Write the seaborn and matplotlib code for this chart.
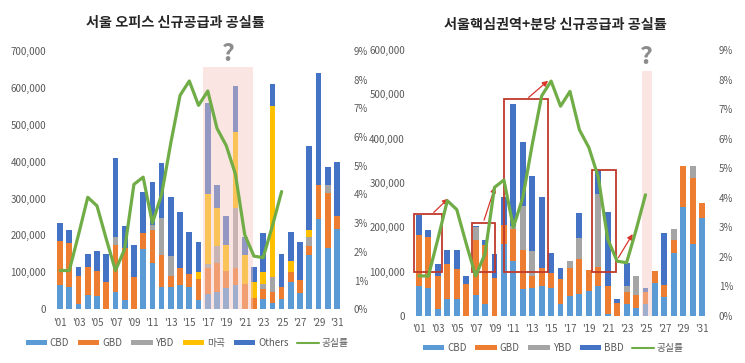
import numpy as np
import pandas as pd
import seaborn as sns
import matplotlib.pyplot as plt
from matplotlib.patches import Rectangle, Patch
from matplotlib.lines import Line2D
from matplotlib.ticker import FuncFormatter

# years and tick labels
years = list(range(2001, 2032))
tick_years = list(range(2001, 2032, 2))
tick_labels = ["'%02d" % (y % 100) for y in tick_years]

# left panel: Seoul office new supply (thousand m2, stacked segments)
cbd_l = [66, 61, 14, 39, 37, 0, 48, 25, 0, 163, 124, 59, 61, 66, 61, 25, 41, 48, 57, 66, 0, 0, 27, 16, 27, 73, 43, 147, 244, 165, 217]
gbd_l = [120, 118, 77, 76, 68, 73, 126, 140, 87, 43, 92, 88, 30, 45, 34, 56, 70, 78, 47, 45, 69, 30, 27, 32, 33, 27, 35, 25, 92, 149, 36]
ybd_l = [0, 0, 0, 0, 0, 0, 23, 0, 0, 0, 12, 99, 53, 0, 0, 0, 11, 46, 0, 162, 0, 0, 15, 40, 0, 0, 0, 25, 0, 22, 0]
magok_l = [0, 0, 0, 0, 0, 0, 0, 0, 0, 0, 0, 0, 0, 0, 0, 19, 190, 101, 70, 206, 78, 43, 31, 462, 0, 32, 0, 18, 0, 0, 0]
others_l = [48, 36, 24, 35, 54, 77, 212, 61, 87, 112, 116, 149, 161, 153, 115, 81, 248, 63, 79, 125, 48, 42, 106, 60, 90, 78, 103, 228, 303, 48, 147]

# right panel: core districts + Bundang
cbd_r = [67, 63, 15, 39, 39, 0, 47, 26, 0, 163, 124, 60, 62, 68, 63, 26, 45, 50, 56, 68, 5, 0, 26, 17, 26, 75, 43, 142, 245, 163, 220]
gbd_r = [115, 115, 75, 79, 66, 72, 125, 134, 86, 43, 71, 88, 28, 41, 33, 58, 64, 78, 47, 43, 63, 30, 28, 30, 27, 26, 26, 30, 93, 149, 34]
ybd_r = [0, 0, 0, 0, 0, 0, 28, 0, 0, 0, 8, 100, 57, 0, 0, 0, 15, 47, 0, 164, 0, 0, 14, 43, 0, 0, 0, 25, 0, 26, 0]
bbd_r = [45, 16, 26, 30, 43, 18, 3, 12, 53, 63, 275, 144, 169, 160, 45, 23, 0, 58, 0, 54, 167, 9, 52, 0, 9, 0, 118, 0, 0, 0, 0]

# vacancy rate (%), 2001-2025
vac_years = list(range(2001, 2026))
vacancy = [1.35, 1.35, 2.6, 3.9, 3.6, 2.45, 1.35, 2.1, 4.35, 4.6, 3.0, 4.0, 5.8, 7.45, 7.95,
           7.1, 7.6, 6.3, 5.7, 4.7, 2.6, 1.85, 1.8, 2.9, 4.1]

colors = {"CBD": "#5B9BD5", "GBD": "#ED7D31", "YBD": "#A5A5A5", "마곡": "#FFC000",
          "Others": "#4472C4", "BBD": "#4472C4"}
green = "#70AD47"

sns.set_theme(style="white")
plt.rcParams["font.family"] = ["Noto Sans CJK KR", "DejaVu Sans"]

fig = plt.figure(figsize=(7.45, 3.63), dpi=100)
ax_l = fig.add_axes([0.0732, 0.148, 0.3866, 0.712])
ax_r = fig.add_axes([0.5548, 0.130, 0.3952, 0.732])


def draw_panel(ax, series, ymax, yticks, title, title_x, title_y):
    df = pd.DataFrame(series, index=years) * 1000
    bottom = np.zeros(len(years))
    for name in df.columns:
        ax.bar(df.index, df[name], bottom=bottom, width=0.62, color=colors[name], linewidth=0, zorder=2)
        bottom += df[name].values
    ax.set_xlim(2000.4, 2031.6)
    ax.set_ylim(0, ymax)
    ax.set_yticks(yticks)
    ax.yaxis.set_major_formatter(FuncFormatter(lambda v, p: f"{int(v):,}"))
    ax.set_xticks(tick_years)
    ax.set_xticklabels(tick_labels)
    ax.tick_params(axis="both", labelsize=7, colors="#595959", length=0, pad=6)
    for s in ax.spines.values():
        s.set_visible(False)
    ax2 = ax.twinx()
    vdf = pd.DataFrame({"year": vac_years, "vacancy": vacancy})
    sns.lineplot(data=vdf, x="year", y="vacancy", ax=ax2, color=green, linewidth=2.3, zorder=5)
    ax2.set_ylim(0, 9)
    ax2.set_yticks(range(0, 10))
    ax2.yaxis.set_major_formatter(FuncFormatter(lambda v, p: f"{int(v)}%"))
    ax2.set_ylabel("")
    ax2.tick_params(axis="y", labelsize=7, colors="#595959", length=0, pad=8)
    ax2.grid(False)
    for s in ax2.spines.values():
        s.set_visible(False)
    ax.set_xlabel("")
    ax.grid(False)
    fig.text(title_x, title_y, title,
             ha="center", va="center", fontsize=10.2, fontweight="bold", color="#262626")
    return ax2


ax2_l = draw_panel(ax_l, {"CBD": cbd_l, "GBD": gbd_l, "YBD": ybd_l, "마곡": magok_l, "Others": others_l},
                   700000, range(0, 700001, 100000), "서울 오피스 신규공급과 공실률", 0.235, 0.936)
ax2_r = draw_panel(ax_r, {"CBD": cbd_r, "GBD": gbd_r, "YBD": ybd_r, "BBD": bbd_r},
                   600000, range(0, 600001, 100000), "서울핵심권역+분당 신규공급과 공실률", 0.745, 0.931)

# highlighted "?" periods
ax_l.add_patch(Rectangle((2016.45, 0), 5.5, 656000, facecolor="#F4C7C3", alpha=0.45, linewidth=0, zorder=3))
ax_l.text(2019.2, 660000, "?", ha="center", va="bottom", fontsize=18, fontweight="bold", color="#8C8C8C")
ax_r.add_patch(Rectangle((2024.6, 0), 1.05, 553000, facecolor="#F4C7C3", alpha=0.45, linewidth=0, zorder=3))
ax_r.text(2025.1, 557000, "?", ha="center", va="bottom", fontsize=18, fontweight="bold", color="#8C8C8C")

# red boxes with arrows on the right panel
boxes = [(2000.47, 98000, 2003.44, 229000), (2006.65, 98000, 2009.07, 210000),
         (2010.0, 98000, 2014.7, 489000), (2019.3, 98000, 2021.9, 329000)]
arrows = [((2002.35, 229000), (2004.3, 269000)), ((2007.8, 210000), (2009.15, 297000)),
          ((2012.4, 489000), (2014.9, 535000)), ((2021.97, 126000), (2023.8, 190000))]
for x0, y0, x1, y1 in boxes:
    ax_r.add_patch(Rectangle((x0, y0), x1 - x0, y1 - y0, fill=False, edgecolor="#C0392B", linewidth=1.3, zorder=6))
for start, end in arrows:
    ax_r.annotate("", xy=end, xytext=start,
                  arrowprops=dict(arrowstyle="-|>", color="#D9352B", lw=0.9, mutation_scale=8), zorder=7)

# legends
def bar_handle(name):
    return Patch(facecolor=colors[name], edgecolor="none")


line_handle = Line2D([0], [0], color=green, linewidth=1.5)
leg_l = ax_l.legend([bar_handle(n) for n in ["CBD", "GBD", "YBD", "마곡", "Others"]] + [line_handle],
                    ["CBD", "GBD", "YBD", "마곡", "Others", "공실률"],
                    loc="center", bbox_to_anchor=(0.46, -0.13), ncol=6, frameon=False, fontsize=7,
                    handlelength=2.2, handleheight=0.45, handletextpad=0.3, columnspacing=0.9, labelcolor="#595959")
leg_r = ax_r.legend([bar_handle(n) for n in ["CBD", "GBD", "YBD", "BBD"]] + [line_handle],
                    ["CBD", "GBD", "YBD", "BBD", "공실률"],
                    loc="center", bbox_to_anchor=(0.475, -0.122), ncol=5, frameon=False, fontsize=7,
                    handlelength=2.2, handleheight=0.45, handletextpad=0.3, columnspacing=0.9, labelcolor="#595959")

fig.savefig("out.png", dpi=100)
